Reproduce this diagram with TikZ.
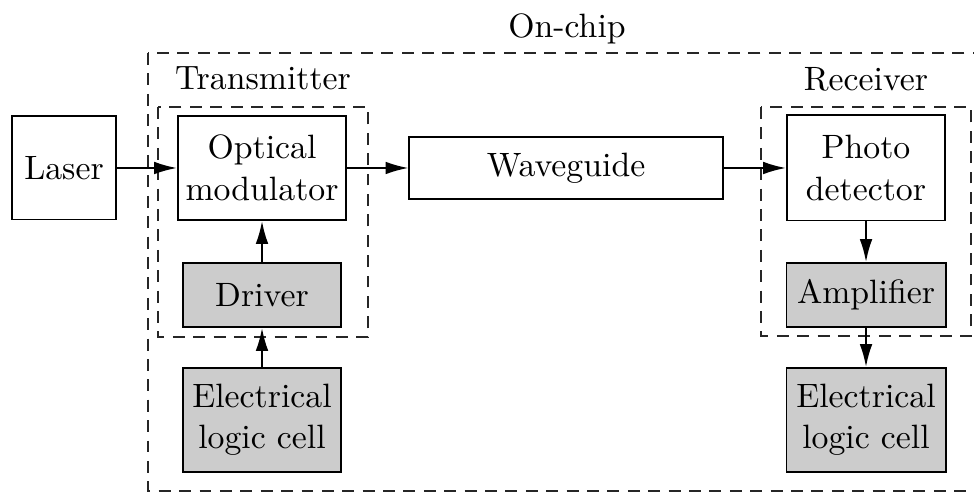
\documentclass[tikz,border=0pt]{standalone}
\usetikzlibrary{arrows.meta}
\begin{document}
\begin{tikzpicture}[x=0.01cm,y=-0.01cm,
  every node/.style={font=\fontsize{9.6pt}{11.8pt}\selectfont},
  block/.style={draw=black,line width=0.55pt,fill=white,align=center,inner sep=0pt},
  shaded/.style={block,fill=black!20},
  group/.style={draw=black!85,line width=0.55pt,dash pattern=on 3.4pt off 2.4pt},
  flow/.style={-{Latex[length=6.5pt,width=3.6pt]},line width=0.55pt},
  caption/.style={anchor=base,inner sep=0pt}]
\useasboundingbox (0,0) rectangle (974,492);

% dashed enclosures
\draw[group] (148,53) rectangle (985,491);
\draw[group] (158,107) rectangle (368,337);
\draw[group] (761,107) rectangle (971,336);
\node[caption] (onchip) at (567,38) {On-chip};
\node[caption] (tx) at (263,90) {Transmitter};
\node[caption] (rx) at (866,91) {Receiver};

% blocks
\node[block,minimum width=1.04cm,minimum height=1.03cm] (laser) at (64,168) {Laser};
\node[block,minimum width=1.68cm,minimum height=1.04cm] (mod) at (262,168) {Optical\\modulator};
\node[block,minimum width=3.13cm,minimum height=0.62cm] (wg) at (566,168) {Waveguide};
\node[block,minimum width=1.58cm,minimum height=1.05cm] (pd) at (866,168) {Photo\\detector};
\node[shaded,minimum width=1.57cm,minimum height=0.64cm] (drv) at (262,295) {Driver};
\node[shaded,minimum width=1.57cm,minimum height=1.04cm] (elin) at (262,420) {Electrical\\logic cell};
\node[shaded,minimum width=1.59cm,minimum height=0.64cm] (amp) at (866,295) {Amplifier};
\node[shaded,minimum width=1.59cm,minimum height=1.04cm] (elout) at (866,420) {Electrical\\logic cell};

% signal path
\draw[flow] (laser) -- (mod);
\draw[flow] (mod) -- (wg);
\draw[flow] (wg) -- (pd);
\draw[flow] (drv) -- (mod);
\draw[flow] (elin) -- (drv);
\draw[flow] (pd) -- (amp);
\draw[flow] (amp) -- (elout);
\end{tikzpicture}
\end{document}
